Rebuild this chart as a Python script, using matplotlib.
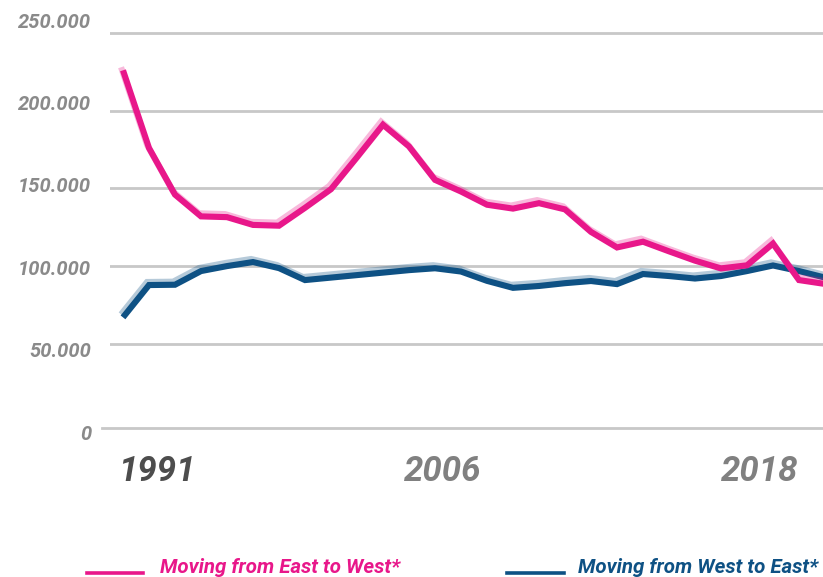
import matplotlib.pyplot as plt
import matplotlib.patheffects as pe
from matplotlib.lines import Line2D

# Datos
years = list(range(1991, 2019))
east_to_west = [226000, 176000, 146000, 132000, 131500, 126500, 126000, 137500,
                149500, 170000, 191000, 177000, 155500, 148000, 139500, 137000,
                140500, 136500, 122000, 112000, 115700, 109500, 103500, 98500,
                100500, 114500, 91000, 88500]
west_to_east = [67000, 87800, 88000, 96800, 100000, 102600, 98700, 91000,
                92600, 94200, 95800, 97400, 98600, 96500, 90500, 86000,
                87200, 89000, 90400, 88400, 94900, 93600, 92000, 93600,
                96800, 100400, 96800, 92600]

y_ticks = [0, 50000, 100000, 150000, 200000, 250000]
y_tick_labels = ['0', '50.000', '100.000', '150.000', '200.000', '250.000']
year_labels = ['1991', '2006', '2018']
legend_labels = ['Moving from East to West*', 'Moving from West to East*']

PINK = '#e8178a'
BLUE = '#0e5184'
GRID = '#c8c8c8'

W, H = 823, 577


def fx(px):
    return px / W


def fy(py):
    return 1 - py / H


fig = plt.figure(figsize=(W / 100, H / 100), dpi=100)

# Eje principal
ax = fig.add_axes([fx(110), fy(437), (823 - 110) / W, (437 - 17.5) / H])
ax.set_xlim(1990.5, 1990.5 + 713 / 26)
ax.set_ylim(-10000, 260000)
for v in y_ticks[1:]:
    ax.axhline(v, color=GRID, lw=2, zorder=0)
ax.axhline(-4055, xmin=-8 / 713, xmax=1, color=GRID, lw=2, zorder=0, clip_on=False)

for values, color in [(west_to_east, BLUE), (east_to_west, PINK)]:
    ax.plot(years, values, color=color, lw=4.4, solid_joinstyle='miter',
            solid_capstyle='butt',
            path_effects=[pe.SimpleLineShadow(offset=(-1.4, 2.2), shadow_color=color, alpha=0.3),
                          pe.Normal()])

ax.set_xticks([])
ax.set_yticks([])
for s in ax.spines.values():
    s.set_visible(False)

# Etiquetas del eje Y
lab = fig.add_axes([fx(94), fy(432), 0.01, (432 - 20) / H])
lab.set_ylim(0, 250000)
lab.set_yticks(y_ticks)
lab.set_yticklabels(y_tick_labels, family='Roboto', fontsize=14.5,
                    fontweight='bold', style='italic', color='#8a8a8a')
lab.tick_params(axis='y', length=0, pad=2)
lab.set_xticks([])
lab.set_frame_on(False)
lab.patch.set_visible(False)

# Años
year_x = [156.5, 443, 760]
year_colors = ['#4d4d4d', '#808080', '#808080']
for txt, x, c in zip(year_labels, year_x, year_colors):
    fig.text(fx(x), fy(481), txt, ha='center', va='baseline', fontsize=25,
             fontweight='bold', style='italic', color=c, family='Roboto')

# Leyenda
for label, color, x0, x1, tx in [(legend_labels[0], PINK, 87, 143, 160),
                                 (legend_labels[1], BLUE, 506.5, 564, 578)]:
    fig.add_artist(Line2D([fx(x0), fx(x1)], [fy(572.7)] * 2, color=color, lw=2.6))
    fig.text(fx(tx), fy(573), label, ha='left', va='baseline', fontsize=14.8,
             fontweight='bold', style='italic', color=color, family='Roboto')

fig.savefig('out.png', dpi=100)
